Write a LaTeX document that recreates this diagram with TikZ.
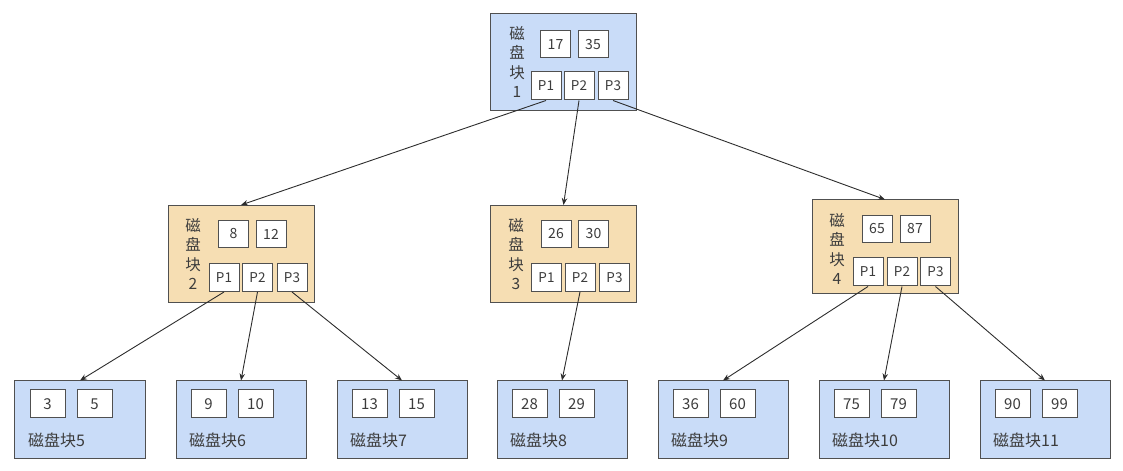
\documentclass[tikz,border=0pt]{standalone}
\usepackage{fontspec}
\setmainfont{Noto Sans CJK SC}
\usetikzlibrary{arrows.meta}
\definecolor{blk}{RGB}{201,220,248}
\definecolor{org}{RGB}{246,222,179}
\definecolor{bd}{RGB}{80,80,80}
\definecolor{ln}{RGB}{45,45,45}
\definecolor{tx}{RGB}{60,60,60}
\begin{document}
\begin{tikzpicture}[x=1bp,y=-1bp,
  blockbox/.style={draw=bd,line width=1bp,inner sep=0pt,minimum width=146bp,minimum height=97bp},
  leafbox/.style={draw=bd,fill=blk,line width=1bp,inner sep=0pt,minimum width=130bp,minimum height=77bp},
  keybox/.style={draw=bd,fill=white,line width=1bp,inner sep=0pt,minimum width=30bp,minimum height=27bp,text=tx,font=\fontsize{14bp}{16bp}\selectfont},
  ptrbox/.style={draw=bd,fill=white,line width=1bp,inner sep=0pt,minimum width=30bp,minimum height=28bp,text=tx,font=\fontsize{13.5bp}{15bp}\selectfont},
  lkeybox/.style={draw=bd,fill=white,line width=1bp,inner sep=0pt,minimum width=35bp,minimum height=28bp,text=tx,font=\fontsize{15bp}{17bp}\selectfont},
  vlabel/.style={inner sep=0pt,align=center,text=tx,font=\fontsize{15.5bp}{19.5bp}\selectfont},
  llabel/.style={inner sep=0pt,anchor=west,text=tx,font=\fontsize{16bp}{18bp}\selectfont},
  conn/.style={draw=ln,line width=0.9bp,-{Stealth[length=7bp,width=5.5bp]}}
]
\useasboundingbox (0,0) rectangle (1123,471);

% top block
\node[blockbox,fill=blk] (b1) at (563.5,62.5) {};
\node[vlabel] (b1t) at (517,62) {磁\\盘\\块\\1};
\node[keybox] (b1k1) at (555.5,44.5) {17};
\node[keybox] (b1k2) at (593,44.5) {35};
\node[ptrbox] (b1p1) at (546,86) {P1};
\node[ptrbox] (b1p2) at (579,86) {P2};
\node[ptrbox] (b1p3) at (613,86) {P3};

% block 2
\node[blockbox,fill=org] (b2) at (241,254) {};
\node[vlabel] (b2t) at (193,254) {磁\\盘\\块\\2};
\node[keybox] (b2k1) at (233.5,234) {8};
\node[keybox] (b2k2) at (271,234) {12};
\node[ptrbox] (b2p1) at (224,277.5) {P1};
\node[ptrbox] (b2p2) at (257.5,277.5) {P2};
\node[ptrbox] (b2p3) at (292,277.5) {P3};

% block 3
\node[blockbox,fill=org] (b3) at (563.5,254) {};
\node[vlabel] (b3t) at (516,254) {磁\\盘\\块\\3};
\node[keybox] (b3k1) at (556,234) {26};
\node[keybox] (b3k2) at (593.5,234) {30};
\node[ptrbox] (b3p1) at (546.5,277.5) {P1};
\node[ptrbox] (b3p2) at (580,277.5) {P2};
\node[ptrbox] (b3p3) at (614.5,277.5) {P3};

% block 4
\node[blockbox,fill=org,minimum height=94bp] (b4) at (885,247) {};
\node[vlabel] (b4t) at (837,249) {磁\\盘\\块\\4};
\node[keybox] (b4k1) at (877,229) {65};
\node[keybox] (b4k2) at (915,229) {87};
\node[ptrbox] (b4p1) at (868,272) {P1};
\node[ptrbox] (b4p2) at (902,272) {P2};
\node[ptrbox] (b4p3) at (935.5,272) {P3};

% leaves
\node[leafbox] (l5) at (80,419.5) {};
\node[lkeybox] (l5k1) at (47.5,404) {3};
\node[lkeybox] (l5k2) at (94.5,404) {5};
\node[llabel] (l5t) at (28,440) {磁盘块5};

\node[leafbox] (l6) at (241,419.5) {};
\node[lkeybox] (l6k1) at (208.5,404) {9};
\node[lkeybox] (l6k2) at (255.5,404) {10};
\node[llabel] (l6t) at (189,440) {磁盘块6};

\node[leafbox] (l7) at (402,419.5) {};
\node[lkeybox] (l7k1) at (369.5,404) {13};
\node[lkeybox] (l7k2) at (416.5,404) {15};
\node[llabel] (l7t) at (350,440) {磁盘块7};

\node[leafbox] (l8) at (562,419.5) {};
\node[lkeybox] (l8k1) at (529.5,404) {28};
\node[lkeybox] (l8k2) at (576.5,404) {29};
\node[llabel] (l8t) at (510,440) {磁盘块8};

\node[leafbox] (l9) at (723,419.5) {};
\node[lkeybox] (l9k1) at (690.5,404) {36};
\node[lkeybox] (l9k2) at (737.5,404) {60};
\node[llabel] (l9t) at (671,440) {磁盘块9};

\node[leafbox] (l10) at (884,419.5) {};
\node[lkeybox] (l10k1) at (851.5,404) {75};
\node[lkeybox] (l10k2) at (898.5,404) {79};
\node[llabel] (l10t) at (832,440) {磁盘块10};

\node[leafbox] (l11) at (1045,419.5) {};
\node[lkeybox] (l11k1) at (1012.5,404) {90};
\node[lkeybox] (l11k2) at (1059.5,404) {99};
\node[llabel] (l11t) at (993,440) {磁盘块11};

% connectors
\draw[conn] (b1p1.south) -- (b2.north);
\draw[conn] (b1p2.south) -- (b3.north);
\draw[conn] (b1p3.south) -- (b4.north);
\draw[conn] (b2p1.south) -- (l5.north);
\draw[conn] (b2p2.south) -- (l6.north);
\draw[conn] (b2p3.south) -- (l7.north);
\draw[conn] (b3p2.south) -- (l8.north);
\draw[conn] (b4p1.south) -- (l9.north);
\draw[conn] (b4p2.south) -- (l10.north);
\draw[conn] (b4p3.south) -- (l11.north);
\end{tikzpicture}
\end{document}
